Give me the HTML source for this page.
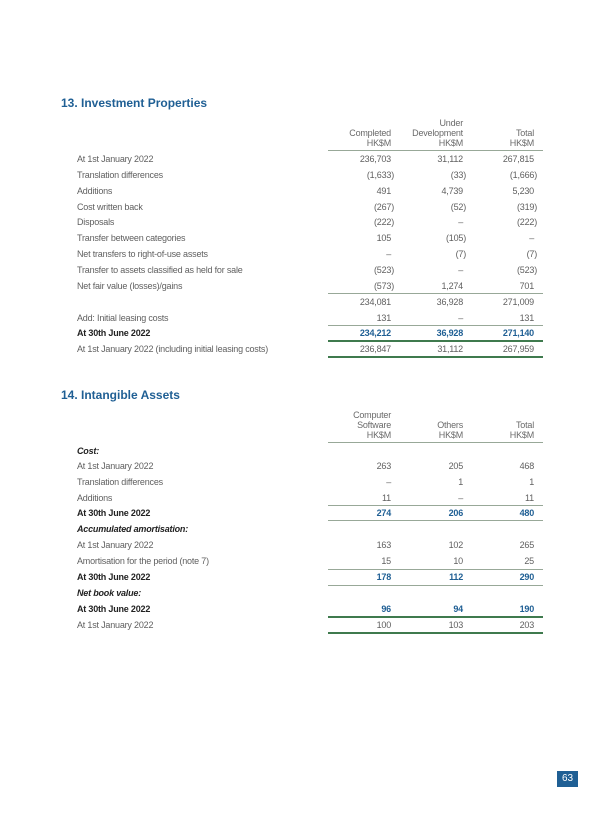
<!DOCTYPE html>
<html><head><meta charset="utf-8"><style>
body{margin:0;background:#fff;}
#p{position:relative;width:600px;height:814px;overflow:hidden;font-family:"Liberation Sans",sans-serif;font-size:9px;letter-spacing:-0.2px;color:#606060;}
.t{position:absolute;left:61px;font-size:12px;font-weight:bold;color:#1f5f94;letter-spacing:0;}
.r{position:absolute;left:0;width:600px;height:12px;line-height:12px;}
.r .l{position:absolute;left:77px;}
.r .a,.r .b,.r .c,.h{position:absolute;text-align:right;white-space:nowrap;}
.a{right:209px}.b{right:137px}.c{right:66px}
.n{margin-right:-3px}
.bd{font-weight:bold;color:#222}
.bd .a,.bd .b,.bd .c{color:#1f5f94}
.i{font-style:italic}
.ln{position:absolute;left:328px;width:215px;height:1px;background:#98a898;}
.tk{position:absolute;left:328px;width:215px;height:2px;background:#3f7a4e;}
.h{line-height:10px;color:#6a6a6a}
</style></head><body><div id="p">
<div class="t" style="top:96px">13. Investment Properties</div>
<div class="h" style="right:209px;top:128px">Completed<br>HK$M</div>
<div class="h" style="right:137px;top:118px">Under<br>Development<br>HK$M</div>
<div class="h" style="right:66px;top:128px">Total<br>HK$M</div>
<div class="ln" style="top:150px"></div>

<div class="r" style="top:153px"><span class="l">At 1st January 2022</span><span class="a">236,703</span><span class="b">31,112</span><span class="c">267,815</span></div>
<div class="r" style="top:169px"><span class="l">Translation differences</span><span class="a n">(1,633)</span><span class="b n">(33)</span><span class="c n">(1,666)</span></div>
<div class="r" style="top:185px"><span class="l">Additions</span><span class="a">491</span><span class="b">4,739</span><span class="c">5,230</span></div>
<div class="r" style="top:201px"><span class="l">Cost written back</span><span class="a n">(267)</span><span class="b n">(52)</span><span class="c n">(319)</span></div>
<div class="r" style="top:216px"><span class="l">Disposals</span><span class="a n">(222)</span><span class="b">–</span><span class="c n">(222)</span></div>
<div class="r" style="top:232px"><span class="l">Transfer between categories</span><span class="a">105</span><span class="b n">(105)</span><span class="c">–</span></div>
<div class="r" style="top:248px"><span class="l">Net transfers to right-of-use assets</span><span class="a">–</span><span class="b n">(7)</span><span class="c n">(7)</span></div>
<div class="r" style="top:264px"><span class="l">Transfer to assets classified as held for sale</span><span class="a n">(523)</span><span class="b">–</span><span class="c n">(523)</span></div>
<div class="r" style="top:280px"><span class="l">Net fair value (losses)/gains</span><span class="a n">(573)</span><span class="b">1,274</span><span class="c">701</span></div>
<div class="ln" style="top:293px"></div>
<div class="r" style="top:296px"><span class="a">234,081</span><span class="b">36,928</span><span class="c">271,009</span></div>
<div class="r" style="top:312px"><span class="l">Add: Initial leasing costs</span><span class="a">131</span><span class="b">–</span><span class="c">131</span></div>
<div class="ln" style="top:325px"></div>
<div class="r bd" style="top:327px"><span class="l">At 30th June 2022</span><span class="a">234,212</span><span class="b">36,928</span><span class="c">271,140</span></div>
<div class="tk" style="top:340px"></div>
<div class="r" style="top:343px"><span class="l">At 1st January 2022 (including initial leasing costs)</span><span class="a">236,847</span><span class="b">31,112</span><span class="c">267,959</span></div>
<div class="tk" style="top:356px"></div>

<div class="t" style="top:388px">14. Intangible Assets</div>
<div class="h" style="right:209px;top:410px">Computer<br>Software<br>HK$M</div>
<div class="h" style="right:137px;top:420px">Others<br>HK$M</div>
<div class="h" style="right:66px;top:420px">Total<br>HK$M</div>
<div class="ln" style="top:442px"></div>
<div class="r bd i" style="top:445px"><span class="l">Cost:</span></div>
<div class="r" style="top:460px"><span class="l">At 1st January 2022</span><span class="a">263</span><span class="b">205</span><span class="c">468</span></div>
<div class="r" style="top:476px"><span class="l">Translation differences</span><span class="a">–</span><span class="b">1</span><span class="c">1</span></div>
<div class="r" style="top:492px"><span class="l">Additions</span><span class="a">11</span><span class="b">–</span><span class="c">11</span></div>
<div class="ln" style="top:505px"></div>
<div class="r bd" style="top:507px"><span class="l">At 30th June 2022</span><span class="a">274</span><span class="b">206</span><span class="c">480</span></div>
<div class="ln" style="top:520px"></div>
<div class="r bd i" style="top:523px"><span class="l">Accumulated amortisation:</span></div>
<div class="r" style="top:539px"><span class="l">At 1st January 2022</span><span class="a">163</span><span class="b">102</span><span class="c">265</span></div>
<div class="r" style="top:555px"><span class="l">Amortisation for the period (note 7)</span><span class="a">15</span><span class="b">10</span><span class="c">25</span></div>
<div class="ln" style="top:569px"></div>
<div class="r bd" style="top:571px"><span class="l">At 30th June 2022</span><span class="a">178</span><span class="b">112</span><span class="c">290</span></div>
<div class="ln" style="top:585px"></div>
<div class="r bd i" style="top:587px"><span class="l">Net book value:</span></div>
<div class="r bd" style="top:603px"><span class="l">At 30th June 2022</span><span class="a">96</span><span class="b">94</span><span class="c">190</span></div>
<div class="tk" style="top:616px"></div>
<div class="r" style="top:619px"><span class="l">At 1st January 2022</span><span class="a">100</span><span class="b">103</span><span class="c">203</span></div>
<div class="tk" style="top:632px"></div>

<div style="position:absolute;left:557px;top:771px;width:21px;height:16px;background:#1f5f94;color:#fff;font-size:10px;line-height:16px;text-align:center;letter-spacing:0">63</div>
</div></body></html>
